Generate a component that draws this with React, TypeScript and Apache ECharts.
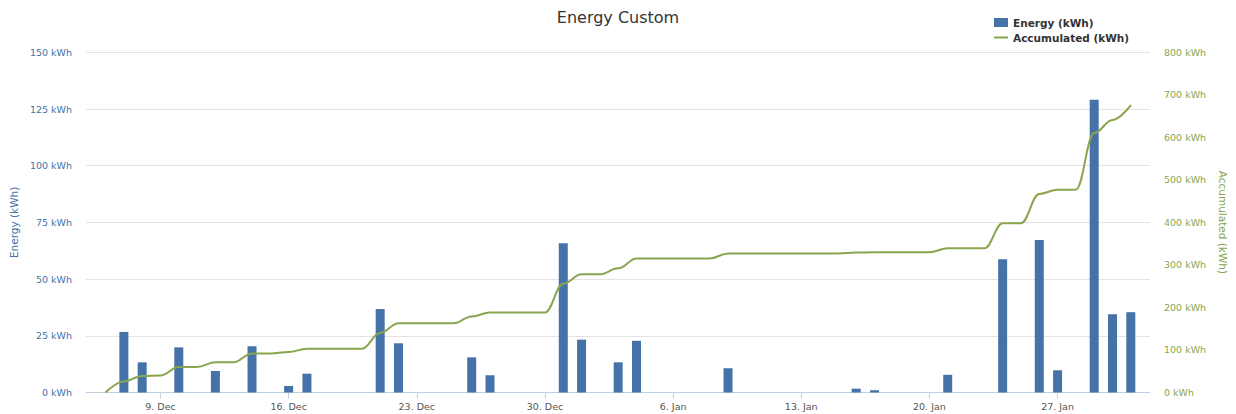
import React, { useEffect, useRef } from "react";
import * as echarts from "echarts";

// Days shown (Dec 6 .. Jan 31)
const days: string[] = [
  "2012-12-06", "2012-12-07", "2012-12-08", "2012-12-09", "2012-12-10", "2012-12-11", "2012-12-12",
  "2012-12-13", "2012-12-14", "2012-12-15", "2012-12-16", "2012-12-17", "2012-12-18", "2012-12-19",
  "2012-12-20", "2012-12-21", "2012-12-22", "2012-12-23", "2012-12-24", "2012-12-25", "2012-12-26",
  "2012-12-27", "2012-12-28", "2012-12-29", "2012-12-30", "2012-12-31", "2013-01-01", "2013-01-02",
  "2013-01-03", "2013-01-04", "2013-01-05", "2013-01-06", "2013-01-07", "2013-01-08", "2013-01-09",
  "2013-01-10", "2013-01-11", "2013-01-12", "2013-01-13", "2013-01-14", "2013-01-15", "2013-01-16",
  "2013-01-17", "2013-01-18", "2013-01-19", "2013-01-20", "2013-01-21", "2013-01-22", "2013-01-23",
  "2013-01-24", "2013-01-25", "2013-01-26", "2013-01-27", "2013-01-28", "2013-01-29", "2013-01-30",
  "2013-01-31",
];

// Daily energy (kWh), null = no bar
const energy: (number | null)[] = [
  null, 26.7, 13.3, null, 19.9, null, 9.5,
  null, 20.4, null, 2.9, 8.3, null, null,
  null, 36.8, 21.7, null, null, null, 15.5,
  7.6, null, null, null, 65.8, 23.3, null,
  13.3, 22.8, null, null, null, null, 10.7,
  null, null, null, null, null, null, 1.7,
  1.0, null, null, null, 7.8, null, null,
  58.7, null, 67.2, 9.8, null, 129.1, 34.5,
  35.4,
];

// Accumulated (kWh)
const accumulated: number[] = [
  0, 26, 39, 40, 60, 60, 71,
  71, 92, 92, 95, 103, 103, 103,
  103, 140, 163, 163, 163, 163, 179,
  188, 188, 188, 188, 256, 278, 278,
  292, 315, 315, 315, 315, 315, 327,
  327, 327, 327, 327, 327, 327, 329,
  330, 330, 330, 330, 339, 339, 339,
  398, 398, 467, 477, 477, 610, 641,
  676,
];

// X-axis tick positions and labels
const tickDates: string[] = [
  "2012-12-09", "2012-12-16", "2012-12-23", "2012-12-30",
  "2013-01-06", "2013-01-13", "2013-01-20", "2013-01-27",
];
const tickLabels: string[] = [
  "9. Dec", "16. Dec", "23. Dec", "30. Dec", "6. Jan", "13. Jan", "20. Jan", "27. Jan",
];

const DAY = 24 * 3600 * 1000;
const toTs = (s: string) => {
  const [y, m, d] = s.split("-").map(Number);
  return Date.UTC(y, m - 1, d);
};

const FONT = "DejaVu Sans";

export default function App() {
  const ref = useRef<HTMLDivElement>(null);

  useEffect(() => {
    if (!ref.current) return;
    const chart = echarts.init(ref.current, undefined, { renderer: "svg" });
    const ts = days.map(toTs);
    const tickTs = tickDates.map(toTs);
    const anchor = tickTs[0];

    chart.setOption({
      animation: false,
      backgroundColor: "#ffffff",
      textStyle: { fontFamily: FONT },
      title: {
        text: "Energy Custom",
        left: "center",
        top: 4,
        textStyle: { fontFamily: FONT, fontSize: 16, fontWeight: "normal", color: "#333333" },
      },
      legend: {
        orient: "vertical",
        left: 989,
        top: 12,
        padding: [5, 5, 5, 5],
        itemGap: 4,
        itemWidth: 14,
        itemHeight: 9,
        backgroundColor: "#ffffff",
        textStyle: { fontFamily: FONT, fontSize: 10.5, fontWeight: "bold", color: "#333333" },
        data: [
          { name: "Energy (kWh)", icon: "rect" },
          {
            name: "Accumulated (kWh)",
            icon: "path://M0,0 L14,0 L14,2 L0,2 Z",
            itemStyle: { color: "#89A54E", borderWidth: 0 },
          },
        ],
      },
      grid: { left: 85, right: 81, top: 52.3, bottom: 21.5, containLabel: false },
      xAxis: {
        type: "value",
        min: anchor - 4.07 * DAY,
        max: anchor + 54.05 * DAY,
        axisLine: { show: true, lineStyle: { color: "#C0D0E0", width: 1 } },
        axisTick: { show: true, length: 6, lineStyle: { color: "#C0D0E0" }, customValues: tickTs },
        splitLine: { show: false },
        axisLabel: {
          customValues: tickTs,
          margin: 9,
          fontFamily: FONT,
          fontSize: 9.5,
          color: "#555555",
          formatter: (v: number) => {
            const i = tickTs.indexOf(v);
            return i >= 0 ? tickLabels[i] : "";
          },
        },
      },
      yAxis: [
        {
          type: "value",
          min: 0,
          max: 150,
          interval: 25,
          name: "Energy (kWh)",
          nameLocation: "middle",
          nameGap: 59,
          nameTextStyle: { fontFamily: FONT, fontSize: 10.5, color: "#4572A7" },
          axisLine: { show: false },
          axisTick: { show: false },
          splitLine: { show: true, lineStyle: { color: "#E3E3E3", width: 1 } },
          axisLabel: {
            margin: 14,
            fontFamily: FONT,
            fontSize: 9.5,
            color: "#4572A7",
            formatter: "{value} kWh",
          },
        },
        {
          type: "value",
          min: 0,
          max: 800,
          interval: 100,
          position: "right",
          name: "Accumulated (kWh)",
          nameLocation: "middle",
          nameGap: 61,
          nameRotate: -90,
          nameTextStyle: { fontFamily: FONT, fontSize: 10.5, color: "#89A54E" },
          axisLine: { show: false },
          axisTick: { show: false },
          splitLine: { show: false },
          axisLabel: {
            margin: 14,
            fontFamily: FONT,
            fontSize: 9.5,
            color: "#89A54E",
            formatter: "{value} kWh",
          },
        },
      ],
      series: [
        {
          name: "Energy (kWh)",
          type: "bar",
          yAxisIndex: 0,
          barWidth: 9,
          itemStyle: { color: "#4572A7" },
          data: ts.map((t, i) => [t, energy[i]]),
          z: 2,
        },
        {
          name: "Accumulated (kWh)",
          type: "line",
          yAxisIndex: 1,
          smooth: 0.4,
          smoothMonotone: "x",
          symbol: "none",
          showSymbol: false,
          lineStyle: { color: "#89A54E", width: 2 },
          itemStyle: { color: "#89A54E" },
          data: ts.map((t, i) => [t, accumulated[i]]),
          z: 3,
        },
      ],
    });

    return () => chart.dispose();
  }, []);

  return (
    <div
      ref={ref}
      style={{ position: "fixed", left: 0, top: 0, width: 1236, height: 414 }}
    />
  );
}
